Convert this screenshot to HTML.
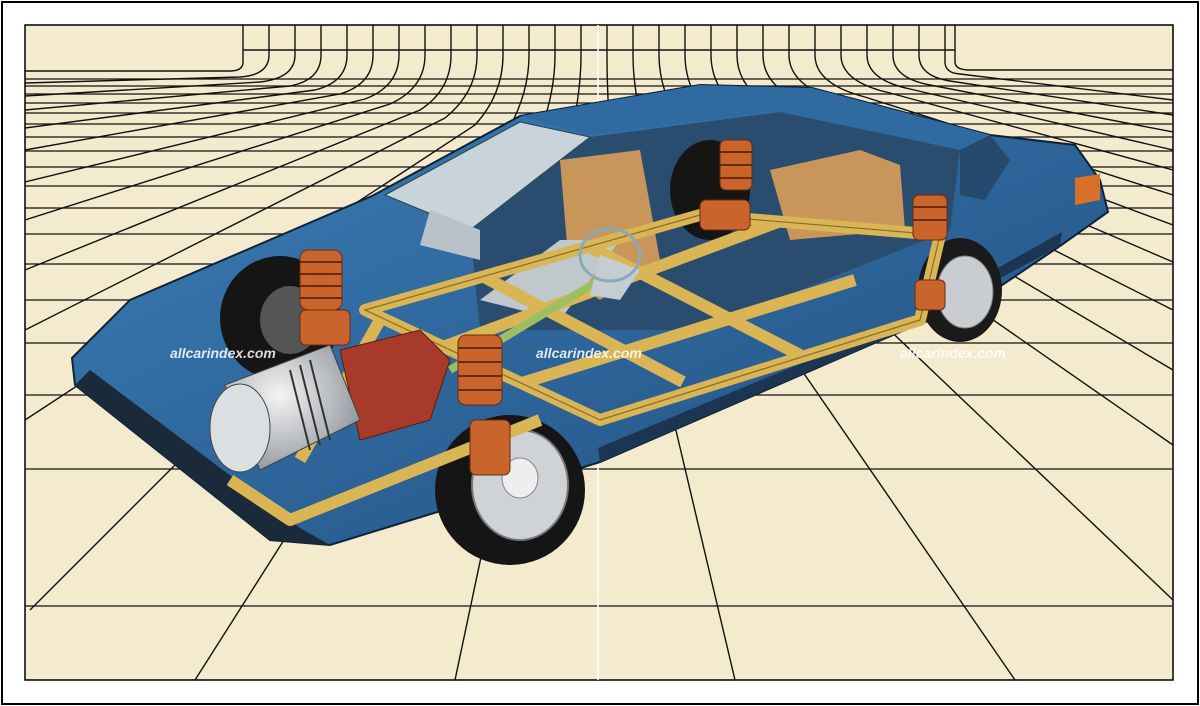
<!DOCTYPE html>
<html><head><meta charset="utf-8"><style>
html,body{margin:0;padding:0;background:#fff;width:1200px;height:706px;overflow:hidden}
svg{display:block}
</style></head><body>
<svg width="1200" height="706" viewBox="0 0 1200 706" xmlns="http://www.w3.org/2000/svg">
<defs>
<clipPath id="c"><rect x="25" y="25" width="1148" height="655"/></clipPath>
<radialGradient id="eng" cx="0.4" cy="0.4" r="0.7"><stop offset="0" stop-color="#f4f4f4"/><stop offset="1" stop-color="#8a8f96"/></radialGradient>
<linearGradient id="body" x1="0" y1="0" x2="1" y2="1"><stop offset="0" stop-color="#3d7fb8"/><stop offset="1" stop-color="#1f4d7e"/></linearGradient>
</defs>
<rect x="2" y="2" width="1196" height="702" fill="#fff" stroke="#000" stroke-width="2"/>
<rect x="25" y="25" width="1148" height="655" fill="#f4eacd" stroke="#000" stroke-width="1.5"/>
<g clip-path="url(#c)" stroke="#111" fill="none" stroke-width="1.4">
<path d="M243 25V62Q243 71 230 71H25"/>
<path d="M269 25V55Q269 75 240 77L25 83"/>
<path d="M295 25V55Q295 78 260 82L25 96"/>
<path d="M321 25V55Q321 80 290 86L25 110"/>
<path d="M347 25V55Q347 82 315 90L25 128"/>
<path d="M373 25V55Q373 84 340 94L25 150"/>
<path d="M399 25V55Q399 86 365 99L25 182"/>
<path d="M425 25V55Q425 88 390 104L25 220"/>
<path d="M451 25V55Q451 90 420 110L25 270"/>
<path d="M477 25V55Q477 92 445 118L25 330"/>
<path d="M503 25V55Q503 94 475 125L25 420"/>
<path d="M529 25V55Q529 96 505 135L30 610"/>
<path d="M555 25V55Q555 98 535 145L195 680"/>
<path d="M581 25V55Q581 100 565 160L455 680"/>
<path d="M607 25V55Q607 100 612 160L735 680"/>
<path d="M633 25V55Q633 98 650 150L1015 680"/>
<path d="M659 25V55Q659 96 690 140L1173 600"/>
<path d="M685 25V55Q685 94 720 130L1173 445"/>
<path d="M711 25V55Q711 92 750 120L1173 370"/>
<path d="M737 25V55Q737 90 780 112L1173 310"/>
<path d="M763 25V55Q763 88 810 106L1173 262"/>
<path d="M789 25V55Q789 86 840 101L1173 225"/>
<path d="M815 25V55Q815 84 865 97L1173 195"/>
<path d="M841 25V55Q841 82 890 93L1173 170"/>
<path d="M867 25V55Q867 80 910 89L1173 150"/>
<path d="M893 25V55Q893 78 930 85L1173 132"/>
<path d="M919 25V55Q919 76 950 81L1173 115"/>
<path d="M945 25V62Q945 73 960 74L1173 100"/>
<path d="M955 25V62Q955 70 970 70H1173"/>
<path d="M243 50H955"/>
<path stroke-width="1.3" d="M25 79H1173M25 86H1173M25 94H1173M25 103H1173M25 113H1173M25 124H1173M25 137H1173M25 151H1173M25 167H1173M25 186H1173M25 208H1173M25 234H1173M25 264H1173M25 300H1173M25 343H1173M25 395H1173M25 469H1173M25 606H1173"/>
</g>
<line x1="598" y1="25" x2="598" y2="680" stroke="#fff" stroke-width="2" opacity="0.8"/>
<!-- car body -->
<path d="M72 358L130 300L372 196L520 116L700 85L812 88L990 135L1075 145L1100 180L1108 212L1060 246L980 300L900 332L600 462L330 545L270 540L75 385Z" fill="url(#body)" stroke="#0e2238" stroke-width="2"/>
<path d="M75 385L270 540L330 545L300 528L90 370Z" fill="#1a2a3a"/>
<path d="M600 462L900 332L1060 246L1062 232L905 320L598 448Z" fill="#1b3552"/>
<path d="M520 116L700 85L812 88L990 135L960 150L780 110L590 135Z" fill="#2f6aa0"/>
<path d="M385 195L520 122L590 137L470 230Z" fill="#c9d3da" stroke="#244" stroke-width="1"/>
<path d="M960 150L990 135L1010 160L985 200L960 195Z" fill="#264a6e"/>
<path d="M470 230L590 137L780 112L960 150L950 230L700 330L480 330Z" fill="#2a4c6e"/>
<path d="M430 210L480 230L480 260L420 245Z" fill="#b9c2c8"/>
<path d="M560 160L640 150L660 260L600 300L570 280Z" fill="#c8965a"/>
<path d="M770 170L860 150L900 165L905 230L790 240Z" fill="#c8965a"/>
<path d="M480 300L560 240L620 240L560 320Z" fill="#c1c8cc"/>
<path d="M1075 178L1100 174L1100 200L1075 205Z" fill="#d8702a"/>
<!-- wheels -->
<ellipse cx="280" cy="318" rx="60" ry="62" fill="#151515"/>
<ellipse cx="290" cy="320" rx="30" ry="34" fill="#555"/>
<ellipse cx="710" cy="190" rx="40" ry="50" fill="#151515"/>
<ellipse cx="960" cy="290" rx="42" ry="52" fill="#1a1a1a"/>
<ellipse cx="965" cy="292" rx="28" ry="36" fill="#c9ccd0" stroke="#777"/>
<ellipse cx="510" cy="490" rx="75" ry="75" fill="#151515"/>
<ellipse cx="520" cy="485" rx="48" ry="55" fill="#cfd2d6" stroke="#777" stroke-width="2"/>
<ellipse cx="520" cy="478" rx="18" ry="20" fill="#eee" stroke="#888"/>
<!-- chassis frame (ladder) -->
<g fill="none" stroke="#d9b555" stroke-width="12" stroke-linejoin="round">
<path d="M365 310L700 215L940 235L920 320L600 420Z"/>
<path d="M443 347L778 222M522 383L855 280M484 277L683 382M590 247L800 355"/>
<path d="M230 480L290 520L540 420M270 440L390 400M380 320L300 460"/>
</g>
<g fill="none" stroke="#8a6b2a" stroke-width="1.2">
<path d="M365 310L700 215L940 235L920 320L600 420Z"/>
</g>
<path d="M450 370L600 280" stroke="#9cc060" stroke-width="8"/>
<path d="M600 255L640 270L620 300L590 295Z" fill="#c5ccd2"/>
<ellipse cx="610" cy="255" rx="30" ry="26" fill="none" stroke="#8ab" stroke-width="3"/>
<path d="M340 350L420 330L450 360L430 420L360 440Z" fill="#a83a2a" stroke="#5a1a10"/>
<path d="M225 385L330 345L360 420L260 470Z" fill="url(#eng)" stroke="#444"/>
<ellipse cx="240" cy="428" rx="30" ry="44" fill="#dcdfe2" stroke="#444"/>
<g stroke="#333" stroke-width="2"><path d="M290 370L310 450M300 365L320 445M310 360L330 440"/></g>
<g fill="#c8642c" stroke="#6a2c10">
<rect x="300" y="250" width="42" height="60" rx="8"/>
<rect x="458" y="335" width="44" height="70" rx="8"/>
<rect x="720" y="140" width="32" height="50" rx="6"/>
<rect x="913" y="195" width="34" height="45" rx="6"/>
<rect x="300" y="310" width="50" height="35" rx="6"/>
<rect x="700" y="200" width="50" height="30" rx="6"/>
<rect x="915" y="280" width="30" height="30" rx="5"/>
<rect x="470" y="420" width="40" height="55" rx="6"/>
</g>
<g stroke="#6a2c10" stroke-width="2"><path d="M300 262H342M300 274H342M300 286H342M300 298H342M458 348H502M458 362H502M458 376H502M458 390H502M720 152H752M720 165H752M720 178H752M913 207H947M913 220H947"/></g>
<g font-family="Liberation Sans, sans-serif" font-style="italic" font-weight="bold" font-size="14" fill="#fff" opacity="0.85">
<text x="170" y="358">allcarindex.com</text>
<text x="536" y="358">allcarindex.com</text>
<text x="900" y="358">allcarindex.com</text>
</g>
</svg>
</body></html>
